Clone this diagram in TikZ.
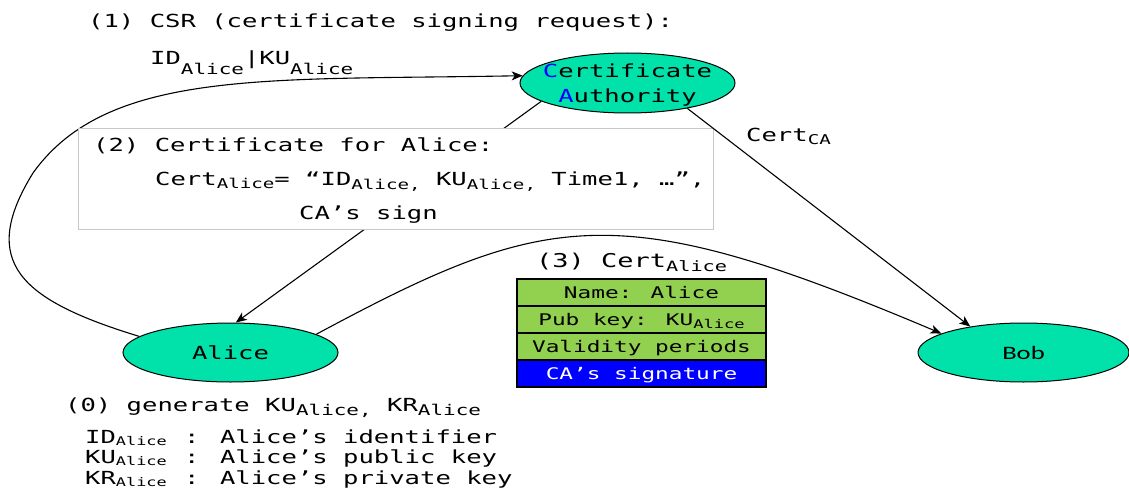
\documentclass[tikz,border=0pt]{standalone}
\usepackage{fontspec}
\usepackage{graphicx}
\usetikzlibrary{arrows.meta,shapes.geometric}
\newfontfamily\mono[FakeStretch=1.42]{DejaVu Sans Mono}
\newfontfamily\bobfont[FakeStretch=1.4]{Carlito}
\definecolor{party}{RGB}{0,226,170}
\definecolor{certgreen}{RGB}{146,208,80}
\definecolor{sigblue}{RGB}{0,0,255}
\definecolor{boxgray}{RGB}{200,200,200}
% subscripts of three sizes, each with an adjustable drop
\newcommand\subs[2][0.25em]{\raisebox{-#1}{\scalebox{0.75}{#2}}}
\newcommand\subl[2][0.25em]{\raisebox{-#1}{\scalebox{0.82}{#2}}}
\newcommand\subt[2][0.12em]{\raisebox{-#1}{\scalebox{0.66}{#2}}}

\begin{document}
\begin{tikzpicture}[x=1pt,y=-1pt,
  txt/.style={inner sep=0pt, anchor=base west, font=\mono\fontsize{18}{21}\selectfont},
  lbl/.style={inner sep=0pt, font=\mono\fontsize{18}{24.4}\selectfont},
  partynode/.style={ellipse, draw=black, line width=1pt, fill=party, inner sep=0pt,
    minimum width=215pt, minimum height=59pt},
  conn/.style={line width=1.1pt, -{Stealth[length=11pt,width=9pt,inset=3pt]}},
  certrow/.style={rectangle, draw=black, line width=1.3pt, fill=certgreen,
    minimum width=249pt, minimum height=27pt, inner sep=0pt,
    text height=12pt, text depth=0pt, font=\mono\fontsize{16}{19}\selectfont},
]
\useasboundingbox (0,0) rectangle (1129,500);

% parties
\node[partynode, label={[lbl]center:Alice}] (alice) at (230.5,352.5) {};
\node[partynode, minimum width=211pt,
  label={[inner sep=0pt, font=\bobfont\fontsize{19}{22}\selectfont]center:Bob}] (bob) at (1023.5,352.5) {};
\node[partynode, minimum height=60pt,
  label={[lbl, align=center, yshift=-2pt]center:{\textcolor{sigblue}{C}ertificate\\\textcolor{sigblue}{A}uthority}}] (ca) at (627.5,83) {};

% (1) certificate signing request
\node[txt] (csr) at (88,28) {(1) CSR (certificate signing request):};
\node[txt] (csrdata) at (150,65) {ID\subl[0.55em]{Alice}|KU\subl[0.55em]{Alice}};
\draw[conn] (alice.170) .. controls (20,300) and (-22,262) .. (33,173)
  .. controls (108,68) and (270,80.5) .. (ca.176);

% (2) certificate returned to Alice
\draw[conn] (ca.192) -- (alice.80);
\node[rectangle, draw=boxgray, fill=white, line width=0.8pt, inner sep=0pt,
  minimum width=635pt, minimum height=101pt, anchor=north west] (certbox) at (78,128) {};
\node[txt] (step2) at (93,151) {(2) Certificate for Alice:};
\node[txt] (certdef) at (155,185) {Cert\subs[0.2em]{Alice}= “ID\subs{Alice,} KU\subs{Alice,} Time1, …”,};
\node[txt] (casign) at (299,219) {CA’s sign};

% CA certificate to Bob
\draw[conn] (ca.337) -- (bob.154);
\node[txt] (certca) at (746,141.7) {Cert\subs[0.15em]{CA}};

% (3) Alice's certificate to Bob
\draw[conn] (alice.12) .. controls (548,209.8) and (617,196.4) .. (bob.167);
\node[txt, font=\mono\fontsize{19}{22}\selectfont] (step3) at (536,267) {(3) Cert\subs[0.25em]{Alice}};
\node[certrow] (rname) at (641.5,292.5) {Name: Alice};
\node[certrow] (rkey) at (641.5,319.5) {Pub key: KU\subs[0.2em]{Alice}};
\node[certrow] (rvalid) at (641.5,346.5) {Validity periods};
\node[certrow, fill=sigblue, text=white] (rsig) at (641.5,373.5) {CA’s signature};

% (0) key generation and notation
\node[txt] (gen) at (65,411) {(0) generate KU\subl{Alice,} KR\subl{Alice}};
\node[txt] (defid) at (85,443) {\makebox[99pt][l]{ID\subt{Alice}}: Alice’s identifier};
\node[txt] (defku) at (85,463) {\makebox[99pt][l]{KU\subt{Alice}}: Alice’s public key};
\node[txt] (defkr) at (85,484) {\makebox[99pt][l]{KR\subt{Alice}}: Alice’s private key};
\end{tikzpicture}
\end{document}
